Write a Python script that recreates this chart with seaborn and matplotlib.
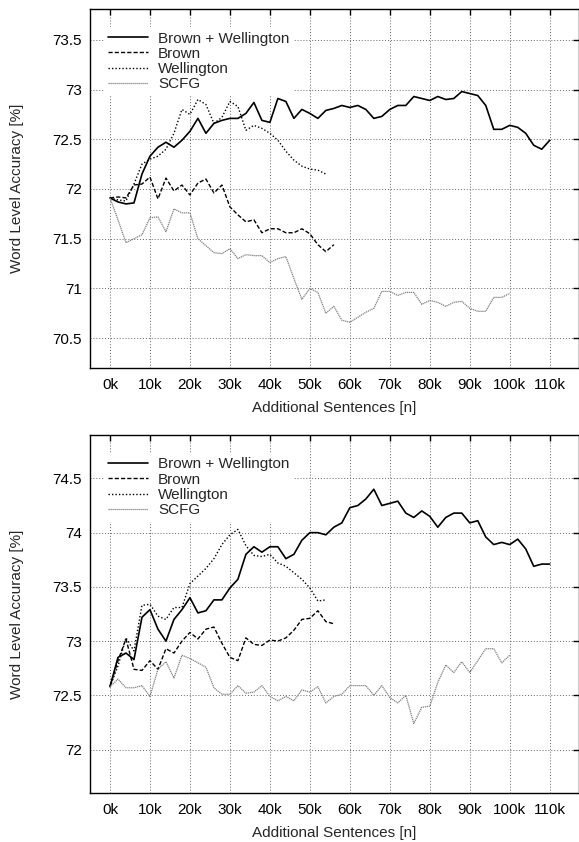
import numpy as np
import pandas as pd
import matplotlib
matplotlib.use("Agg")
import matplotlib.pyplot as plt
import seaborn as sns

# ---------------- data ----------------
series_names = ["Brown + Wellington", "Brown", "Wellington", "SCFG"]
x_tick_values = [0, 10000, 20000, 30000, 40000, 50000, 60000, 70000, 80000, 90000, 100000, 110000]
x_tick_labels = ["0k", "10k", "20k", "30k", "40k", "50k", "60k", "70k", "80k", "90k", "100k", "110k"]

x_bw = list(range(0, 110001, 2000))
x_brown = list(range(0, 56001, 2000))
x_well = list(range(0, 54001, 2000))
x_scfg = list(range(0, 100001, 2000))

top_bw = [71.91, 71.87, 71.85, 71.86, 72.15, 72.33, 72.42, 72.47, 72.42, 72.49,
          72.58, 72.71, 72.56, 72.66, 72.69, 72.71, 72.71, 72.76, 72.87, 72.69,
          72.67, 72.91, 72.88, 72.71, 72.80, 72.76, 72.71, 72.79, 72.81, 72.84,
          72.82, 72.84, 72.80, 72.71, 72.73, 72.80, 72.84, 72.84, 72.93, 72.91,
          72.89, 72.93, 72.90, 72.91, 72.98, 72.96, 72.94, 72.84, 72.60, 72.60,
          72.64, 72.62, 72.56, 72.44, 72.40, 72.49]
top_brown = [71.91, 71.92, 71.91, 72.04, 72.05, 72.12, 71.90, 72.11, 71.98, 72.04,
             71.94, 72.06, 72.10, 71.96, 72.04, 71.82, 71.74, 71.67, 71.69, 71.56,
             71.60, 71.60, 71.56, 71.56, 71.60, 71.55, 71.44, 71.37, 71.44]
top_well = [71.91, 71.89, 71.88, 72.05, 72.25, 72.30, 72.33, 72.40, 72.56, 72.80,
            72.75, 72.90, 72.85, 72.66, 72.72, 72.88, 72.83, 72.59, 72.64, 72.61,
            72.56, 72.49, 72.38, 72.29, 72.23, 72.20, 72.19, 72.15]
top_scfg = [71.91, 71.69, 71.46, 71.50, 71.54, 71.71, 71.72, 71.57, 71.80, 71.76,
            71.76, 71.50, 71.43, 71.36, 71.35, 71.40, 71.30, 71.34, 71.33, 71.33,
            71.26, 71.30, 71.32, 71.10, 70.89, 71.00, 70.96, 70.75, 70.82, 70.68,
            70.66, 70.71, 70.76, 70.80, 70.97, 70.97, 70.93, 70.96, 70.96, 70.84,
            70.88, 70.86, 70.82, 70.86, 70.87, 70.80, 70.77, 70.77, 70.91, 70.91,
            70.95]

bot_bw = [72.58, 72.85, 72.89, 72.83, 73.22, 73.29, 73.11, 73.00, 73.20, 73.29,
          73.40, 73.26, 73.28, 73.38, 73.38, 73.49, 73.57, 73.80, 73.87, 73.82,
          73.87, 73.87, 73.76, 73.80, 73.93, 74.00, 74.00, 73.98, 74.05, 74.09,
          74.23, 74.25, 74.31, 74.40, 74.25, 74.27, 74.29, 74.18, 74.14, 74.20,
          74.15, 74.05, 74.14, 74.18, 74.18, 74.09, 74.11, 73.96, 73.89, 73.91,
          73.89, 73.94, 73.85, 73.69, 73.71, 73.71]
bot_brown = [72.58, 72.82, 73.02, 72.74, 72.73, 72.82, 72.74, 72.93, 72.89, 73.00,
             73.08, 73.02, 73.11, 73.13, 72.98, 72.85, 72.82, 73.03, 72.97, 72.96,
             73.01, 73.00, 73.03, 73.10, 73.20, 73.21, 73.28, 73.18, 73.16]
bot_well = [72.58, 72.77, 73.03, 72.91, 73.33, 73.34, 73.23, 73.20, 73.31, 73.31,
            73.53, 73.60, 73.67, 73.76, 73.89, 73.98, 74.03, 73.88, 73.79, 73.78,
            73.80, 73.72, 73.69, 73.63, 73.57, 73.49, 73.37, 73.38]
bot_scfg = [72.58, 72.65, 72.57, 72.57, 72.59, 72.49, 72.74, 72.81, 72.66, 72.87,
            72.84, 72.80, 72.76, 72.57, 72.51, 72.51, 72.59, 72.52, 72.53, 72.59,
            72.49, 72.45, 72.49, 72.45, 72.55, 72.53, 72.58, 72.43, 72.49, 72.51,
            72.59, 72.59, 72.59, 72.50, 72.59, 72.48, 72.43, 72.50, 72.24, 72.39,
            72.40, 72.62, 72.78, 72.71, 72.81, 72.71, 72.82, 72.93, 72.93, 72.80,
            72.87]

top_yticks = [70.5, 71, 71.5, 72, 72.5, 73, 73.5]
top_ylabels = ["70.5", "71", "71.5", "72", "72.5", "73", "73.5"]
bot_yticks = [72, 72.5, 73, 73.5, 74, 74.5]
bot_ylabels = ["72", "72.5", "73", "73.5", "74", "74.5"]

# ---------------- style ----------------
sns.set_theme(style="white")
plt.rcParams['font.family'] = ['Liberation Sans', 'DejaVu Sans']

FS = 11
styles = {
    "Brown + Wellington": dict(color="black", linestyle="-", linewidth=1.2),
    "Brown": dict(color="black", linestyle=(0, (3, 1.5)), linewidth=1.0),
    "Wellington": dict(color="black", linestyle=(0, (1, 1.5)), linewidth=1.0),
    "SCFG": dict(color="0.5", linestyle=(0, (1, 0.6)), linewidth=0.9),
}

fig = plt.figure(figsize=(5.79, 8.42), dpi=100)
W, H = 579.0, 842.0
ax_top = fig.add_axes([90 / W, (H - 368) / H, 488.5 / W, 359 / H])
ax_bot = fig.add_axes([90 / W, (H - 793) / H, 488.5 / W, 358 / H])


def draw(ax, bw, brown, well, scfg, yticks, ylabels, ylim):
    data = [(x_bw, bw), (x_brown, brown), (x_well, well), (x_scfg, scfg)]
    for name, (xs, ys) in zip(series_names, data):
        df = pd.DataFrame({"x": xs, "y": ys})
        sns.lineplot(data=df, x="x", y="y", ax=ax, label=name, **styles[name])
    ax.set_xlim(-5000, 117200)
    ax.set_ylim(*ylim)
    ax.set_xticks(x_tick_values)
    ax.set_xticklabels(x_tick_labels)
    ax.set_yticks(yticks)
    ax.set_yticklabels(ylabels)
    ax.grid(True, color="0.4", linestyle=(0, (1, 2)), linewidth=0.7)
    ax.set_axisbelow(True)
    ax.tick_params(direction="in", length=4, width=1, color="black",
                   top=True, right=True, labelsize=FS, labelcolor="black")
    ax.tick_params(axis="x", pad=7)
    ax.tick_params(axis="y", pad=6)
    for s in ax.spines.values():
        s.set_color("black")
        s.set_linewidth(1.0)
    ax.set_xlabel("Additional Sentences [n]", fontsize=FS, labelpad=6.5)
    ax.set_ylabel("Word Level Accuracy [%]", fontsize=FS, labelpad=20)
    leg = ax.legend(loc="upper left", bbox_to_anchor=(0.028, 0.95),
                    frameon=True, fancybox=False, framealpha=1.0,
                    edgecolor="white", facecolor="white",
                    fontsize=FS, handlelength=2.6, handletextpad=0.65,
                    labelspacing=0.08, borderpad=0.3, borderaxespad=0)
    leg.get_frame().set_linewidth(0)


draw(ax_top, top_bw, top_brown, top_well, top_scfg, top_yticks, top_ylabels, (70.2, 73.81))
draw(ax_bot, bot_bw, bot_brown, bot_well, bot_scfg, bot_yticks, bot_ylabels, (71.6, 74.9))

fig.savefig("out.png", dpi=100)
